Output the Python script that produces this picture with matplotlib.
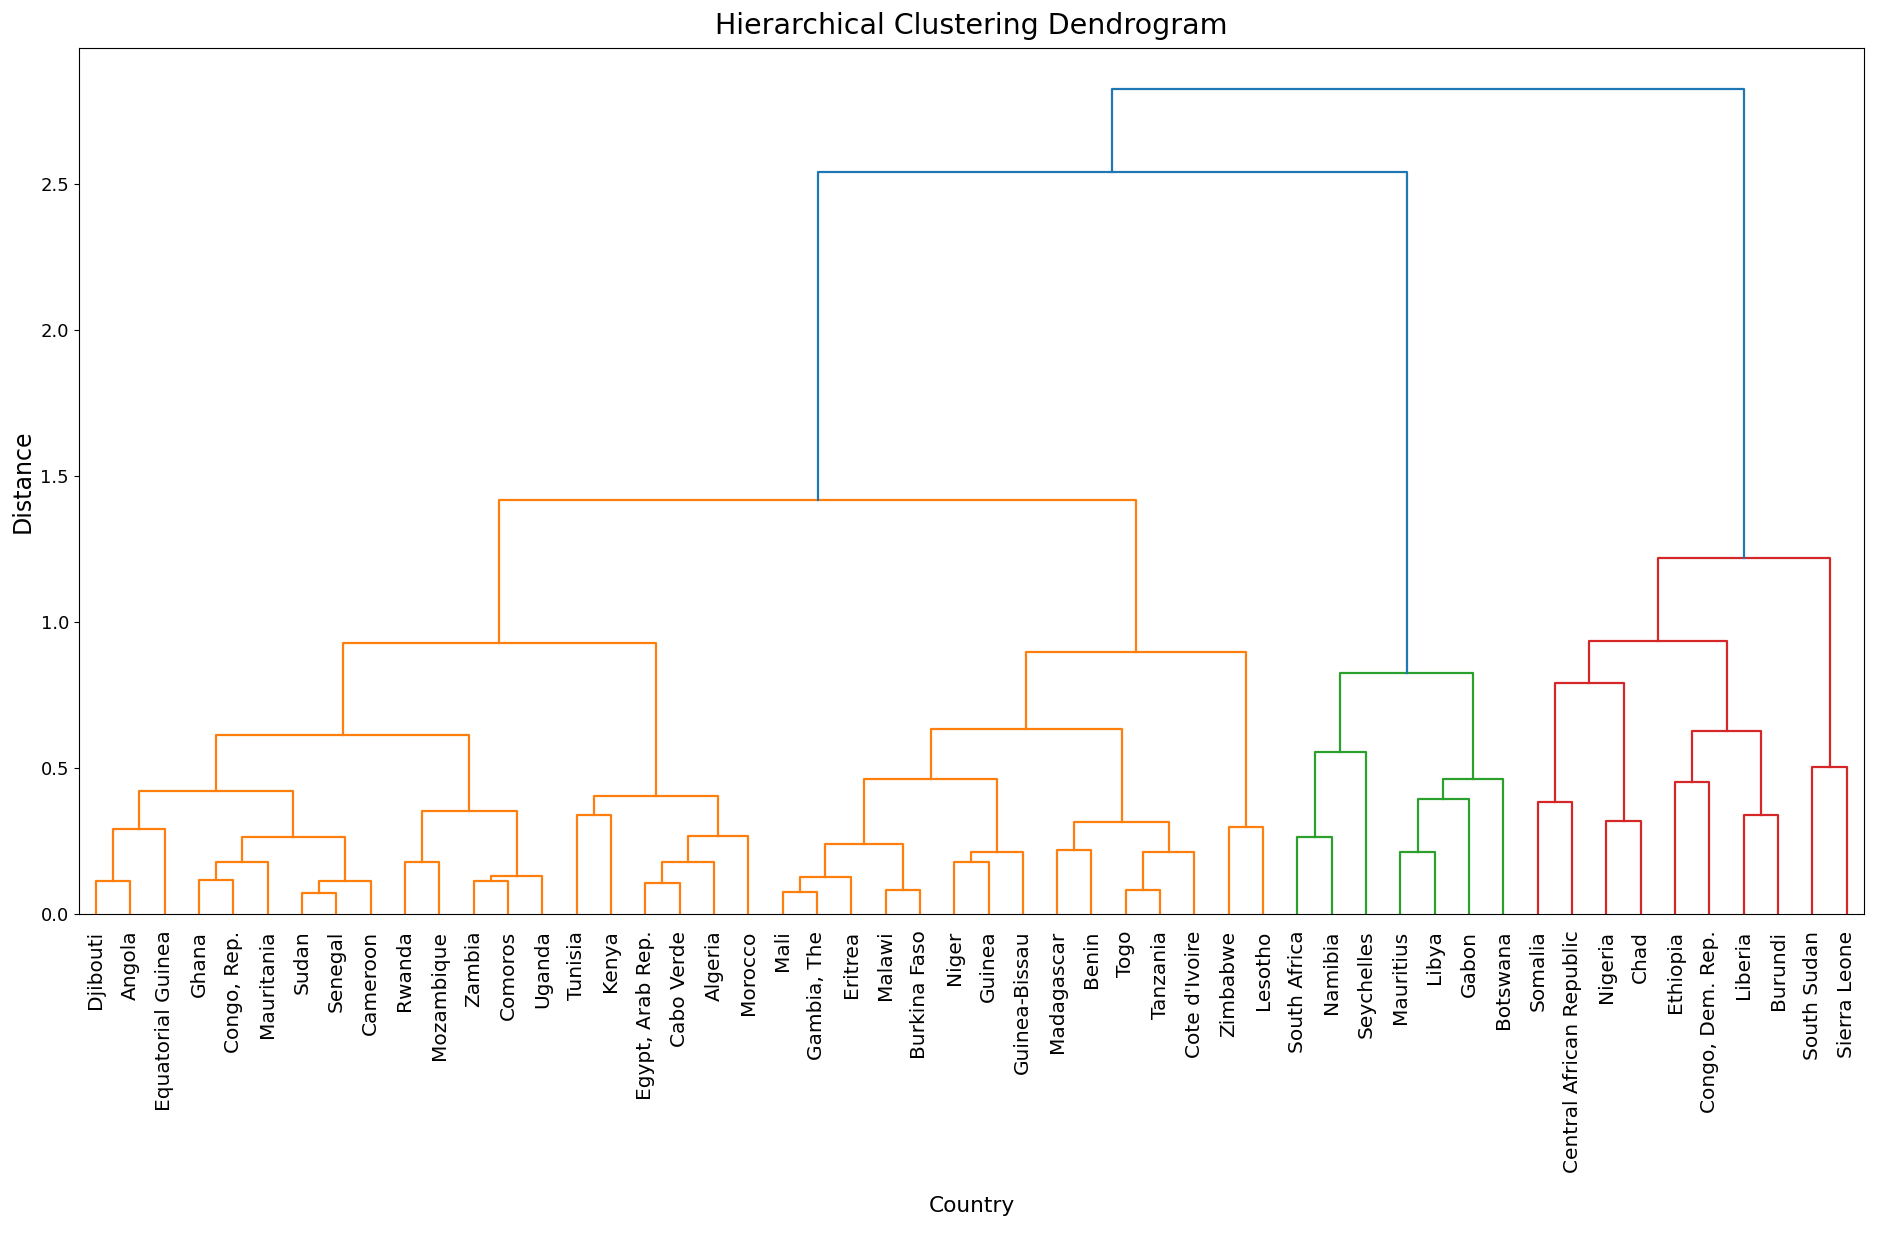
import matplotlib
matplotlib.use("Agg")
import matplotlib.pyplot as plt
from matplotlib import font_manager

# leaf order as shown on the x axis
countries = [
    "Djibouti", "Angola", "Equatorial Guinea", "Ghana", "Congo, Rep.", "Mauritania",
    "Sudan", "Senegal", "Cameroon", "Rwanda", "Mozambique", "Zambia", "Comoros",
    "Uganda", "Tunisia", "Kenya", "Egypt, Arab Rep.", "Cabo Verde", "Algeria",
    "Morocco", "Mali", "Gambia, The", "Eritrea", "Malawi", "Burkina Faso", "Niger",
    "Guinea", "Guinea-Bissau", "Madagascar", "Benin", "Togo", "Tanzania",
    "Cote d'Ivoire", "Zimbabwe", "Lesotho", "South Africa", "Namibia", "Seychelles",
    "Mauritius", "Libya", "Gabon", "Botswana", "Somalia", "Central African Republic",
    "Nigeria", "Chad", "Ethiopia", "Congo, Dem. Rep.", "Liberia", "Burundi",
    "South Sudan", "Sierra Leone",
]

# linkage-style merges: child ids < 52 are leaves, id 52+k is merge k
merge_left = [0, 52, 3, 54, 6, 56, 55, 53, 9, 11, 61, 60, 59, 14, 16, 66, 67, 65, 64,
              20, 71, 23, 72, 25, 75, 74, 28, 30, 79, 78, 77, 33, 82, 70,
              35, 86, 38, 88, 89, 87, 85,
              42, 44, 93, 46, 48, 96, 95, 50, 99, 92]
merge_right = [1, 2, 4, 5, 7, 8, 57, 58, 10, 12, 13, 62, 63, 15, 17, 18, 19, 68, 69,
               21, 22, 24, 73, 26, 27, 76, 29, 31, 32, 80, 81, 34, 83, 84,
               36, 37, 39, 40, 41, 90, 91,
               43, 45, 94, 47, 49, 97, 98, 51, 100, 101]
merge_height = [0.111, 0.291, 0.116, 0.176, 0.073, 0.111, 0.263, 0.421, 0.176, 0.111,
                0.131, 0.352, 0.612, 0.339, 0.105, 0.176, 0.267, 0.404, 0.927,
                0.076, 0.128, 0.082, 0.240, 0.176, 0.213, 0.463, 0.219, 0.082, 0.213,
                0.313, 0.632, 0.296, 0.895, 1.416,
                0.263, 0.556, 0.213, 0.393, 0.463, 0.824, 2.541,
                0.382, 0.318, 0.790, 0.450, 0.339, 0.627, 0.933, 0.502, 1.217, 2.823]

palette = ["#ff7f0e", "#2ca02c", "#d62728", "#9467bd"]
above_color = "#1f77b4"

n = len(countries)
xpos = {i: 5 + 10 * i for i in range(n)}
hpos = {i: 0.0 for i in range(n)}
for k, (a, b, h) in enumerate(zip(merge_left, merge_right, merge_height)):
    xpos[n + k] = (xpos[a] + xpos[b]) / 2
    hpos[n + k] = h

threshold = 0.7 * max(merge_height)
colors = {}


def paint(node, col):
    if node < n:
        return
    colors[node] = col
    paint(merge_left[node - n], col)
    paint(merge_right[node - n], col)


counter = [0]


def assign(node):
    if node < n:
        return
    if hpos[node] < threshold:
        paint(node, palette[counter[0] % len(palette)])
        counter[0] += 1
    else:
        colors[node] = above_color
        assign(merge_left[node - n])
        assign(merge_right[node - n])


assign(n + len(merge_height) - 1)


def has_font(name):
    try:
        font_manager.findfont(name, fallback_to_default=False)
        return True
    except Exception:
        return False


# the reference uses a narrow face for title / y ticks / x label
narrow_found = None
for cand in ["Liberation Sans Narrow", "DejaVu Sans Condensed"]:
    if has_font(cand):
        narrow_found = cand
        break
narrow = [narrow_found, "DejaVu Sans"] if narrow_found else ["DejaVu Sans"]
scale = 1.0 if narrow_found else 0.82

fig, ax = plt.subplots(figsize=(18.77, 12.35), dpi=100)
fig.subplots_adjust(left=0.042, right=0.993, bottom=0.26, top=0.961)

for k, (a, b, h) in enumerate(zip(merge_left, merge_right, merge_height)):
    ax.plot([xpos[a], xpos[a], xpos[b], xpos[b]], [hpos[a], h, h, hpos[b]],
            color=colors[n + k], lw=1.6)

ax.set_xlim(0, 10 * n)
ax.set_ylim(0, max(merge_height) * 1.05)
ax.set_xticks([xpos[i] for i in range(n)])
ax.set_xticklabels(countries, rotation=90, fontsize=14.5)
ax.tick_params(axis="x", length=0, pad=12)

for lbl in ax.get_yticklabels():
    lbl.set_fontfamily(narrow)
    lbl.set_fontsize(15 * scale if narrow_found else 13)

ax.set_title("Hierarchical Clustering Dendrogram", fontsize=25 * scale,
             family=narrow, pad=10)
ax.set_xlabel("Country", fontsize=19 * scale, family=narrow, labelpad=16)
ax.set_ylabel("Distance", fontsize=17)

fig.savefig("out.png", dpi=100)
